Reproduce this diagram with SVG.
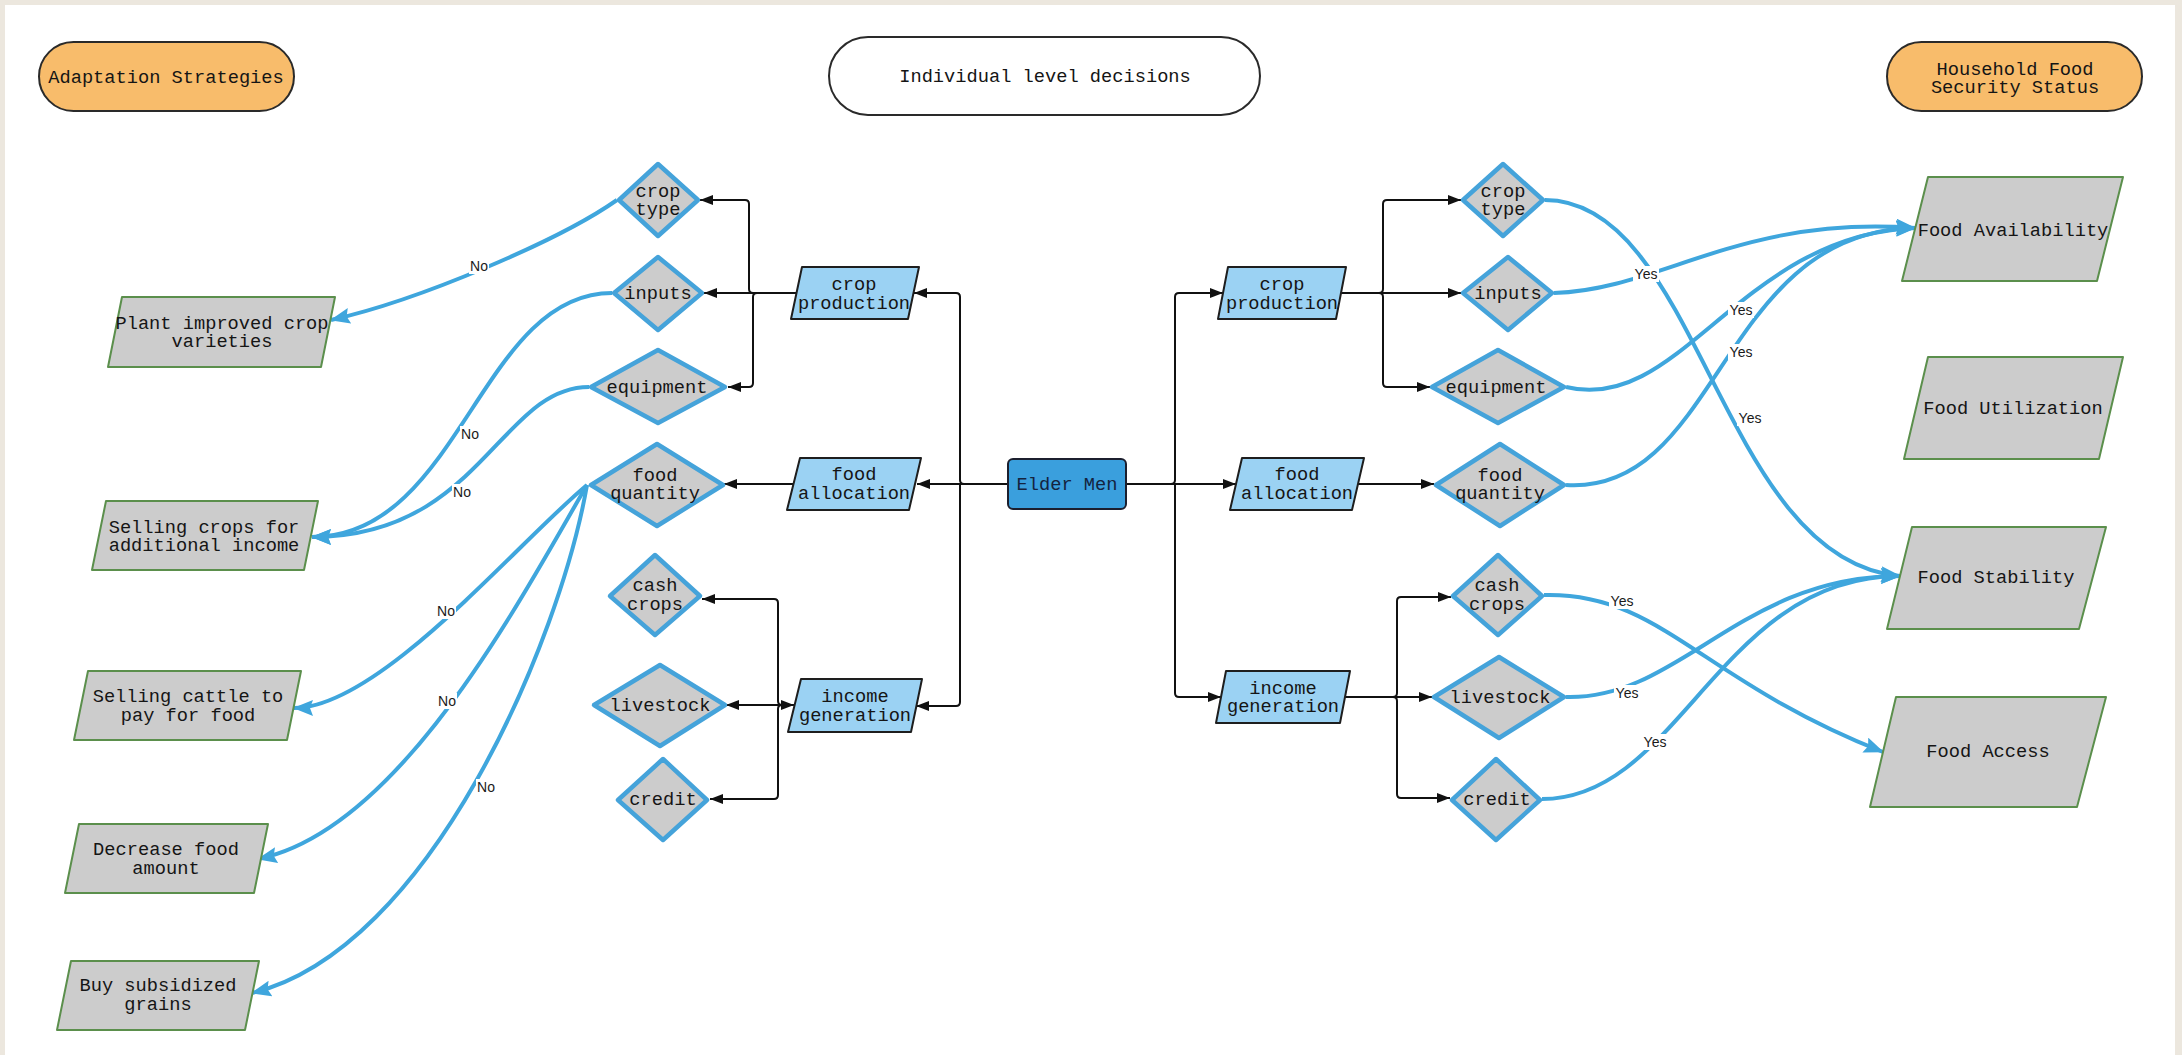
<svg xmlns="http://www.w3.org/2000/svg" width="2182" height="1055" viewBox="0 0 2182 1055">
<defs>
<style>
.t{font-family:"Liberation Mono","DejaVu Sans Mono",monospace;font-size:18.7px;fill:#151515;text-anchor:middle}
.lbl{font-family:"Liberation Sans",Arial,sans-serif;font-size:14px;fill:#1a1a1a;text-anchor:middle}
.dia{fill:#cccccc;stroke:#45a3da;stroke-width:4.5;stroke-linejoin:round}
.out{fill:#cccccc;stroke:#5b8f4c;stroke-width:2;stroke-linejoin:round}
.dec{fill:#9bd2f3;stroke:#1e1e1e;stroke-width:2;stroke-linejoin:round}
.hdr{fill:#f8bc6b;stroke:#2a2a2a;stroke-width:2}
.blk{fill:none;stroke:#111;stroke-width:2;marker-end:url(#ab)}
.blu{fill:none;stroke:#3fa6dd;stroke-width:4;marker-end:url(#au)}
.lb{fill:#fff}
</style>
<marker id="ab" markerUnits="userSpaceOnUse" markerWidth="13" markerHeight="10" refX="13" refY="5" orient="auto"><path d="M0,0 L13,5 L0,10 z" fill="#111"/></marker>
<marker id="abs" markerUnits="userSpaceOnUse" markerWidth="13" markerHeight="10" refX="13" refY="5" orient="auto-start-reverse"><path d="M0,0 L13,5 L0,10 z" fill="#111"/></marker>
<marker id="au" markerUnits="userSpaceOnUse" markerWidth="20" markerHeight="16" refX="19" refY="8" orient="auto"><path d="M0,0 L20,8 L0,16 L3,8 z" fill="#3fa6dd"/></marker>
</defs>
<rect x="0" y="0" width="2182" height="1055" fill="#ece7de"/>
<rect x="5" y="5" width="2170" height="1050" fill="#ffffff"/>

<g id="connectors">
<path class="blk" d="M1007,484 H964 Q960,484 960,480 V297 Q960,293 956,293 H914"/>
<path class="blk" d="M1007,484 H917"/>
<path class="blk" d="M960,484 V702 Q960,706 956,706 H916"/>
<path class="blk" d="M796,293 H753 Q749,293 749,289 V204 Q749,200 745,200 H700"/>
<path class="blk" d="M796,293 H704"/>
<path class="blk" d="M796,293 H757 Q753,293 753,297 V383 Q753,387 749,387 H728"/>
<path class="blk" d="M793,484 H724"/>
<path class="blk" d="M794,705 H782 Q778,705 778,701 V603 Q778,599 774,599 H702"/>
<path class="blk" d="M794,705 H726" marker-start="url(#abs)"/>
<path class="blk" d="M794,705 H782 Q778,705 778,709 V795 Q778,799 774,799 H710"/>
<path class="blk" d="M1127,484 H1171 Q1175,484 1175,480 V297 Q1175,293 1179,293 H1223"/>
<path class="blk" d="M1127,484 H1236"/>
<path class="blk" d="M1175,484 V693 Q1175,697 1179,697 H1221"/>
<path class="blk" d="M1341,293 H1379 Q1383,293 1383,289 V204 Q1383,200 1387,200 H1461"/>
<path class="blk" d="M1341,293 H1461"/>
<path class="blk" d="M1341,293 H1379 Q1383,293 1383,297 V383 Q1383,387 1387,387 H1430"/>
<path class="blk" d="M1358,484 H1434"/>
<path class="blk" d="M1345,697 H1393 Q1397,697 1397,693 V601 Q1397,597 1401,597 H1451"/>
<path class="blk" d="M1345,697 H1432"/>
<path class="blk" d="M1345,697 H1393 Q1397,697 1397,701 V794 Q1397,798 1401,798 H1450"/>

<path class="blu" d="M617,200 C560,240 420,300 331,320"/>
<path class="blu" d="M612,293 C480,293 460,537 312,537"/>
<path class="blu" d="M589,387 C500,387 480,537 312,537"/>
<path class="blu" d="M587,485 C520,540 380,708 294,708"/>
<path class="blu" d="M587,485 C520,600 400,830 258,859"/>
<path class="blu" d="M587,485 C560,640 430,950 252,993"/>

<path class="blu" d="M1545,200 C1700,200 1720,560 1900,576"/>
<path class="blu" d="M1554,293 C1660,290 1740,215 1915,228"/>
<path class="blu" d="M1566,387 C1680,415 1740,235 1915,228"/>
<path class="blu" d="M1566,485 C1720,495 1720,230 1915,228"/>
<path class="blu" d="M1544,595 C1660,592 1700,680 1883,752"/>
<path class="blu" d="M1566,697 C1680,700 1740,576 1900,576"/>
<path class="blu" d="M1542,799 C1680,799 1720,576 1900,576"/>

<g id="labels">
<rect class="lb" x="469" y="258" width="20" height="16"/><text class="lbl" x="479" y="271">No</text>
<rect class="lb" x="460" y="426" width="20" height="16"/><text class="lbl" x="470" y="439">No</text>
<rect class="lb" x="452" y="484" width="20" height="16"/><text class="lbl" x="462" y="497">No</text>
<rect class="lb" x="436" y="603" width="20" height="16"/><text class="lbl" x="446" y="616">No</text>
<rect class="lb" x="437" y="693" width="20" height="16"/><text class="lbl" x="447" y="706">No</text>
<rect class="lb" x="476" y="779" width="20" height="16"/><text class="lbl" x="486" y="792">No</text>
<rect class="lb" x="1633" y="266" width="26" height="16"/><text class="lbl" x="1646" y="279">Yes</text>
<rect class="lb" x="1728" y="302" width="26" height="16"/><text class="lbl" x="1741" y="315">Yes</text>
<rect class="lb" x="1728" y="344" width="26" height="16"/><text class="lbl" x="1741" y="357">Yes</text>
<rect class="lb" x="1737" y="410" width="26" height="16"/><text class="lbl" x="1750" y="423">Yes</text>
<rect class="lb" x="1609" y="593" width="26" height="16"/><text class="lbl" x="1622" y="606">Yes</text>
<rect class="lb" x="1614" y="685" width="26" height="16"/><text class="lbl" x="1627" y="698">Yes</text>
<rect class="lb" x="1642" y="734" width="26" height="16"/><text class="lbl" x="1655" y="747">Yes</text>
</g>
</g>

<g id="hdr-adaptation"><rect class="hdr" x="39" y="42" width="255" height="69" rx="34.5"/><text class="t" x="166" y="83">Adaptation Strategies</text></g>
<g id="hdr-individual"><rect x="829" y="37" width="431" height="78" rx="39" fill="#fff" stroke="#2a2a2a" stroke-width="2"/><text class="t" x="1045" y="82">Individual level decisions</text></g>
<g id="hdr-household"><rect class="hdr" x="1887" y="42" width="255" height="69" rx="34.5"/><text class="t" x="2015" y="75">Household Food</text><text class="t" x="2015" y="93">Security Status</text></g>

<g id="elder-men"><rect x="1008" y="459" width="118" height="50" rx="5" fill="#3a9fdd" stroke="#1c1f2e" stroke-width="2"/><text class="t" x="1067" y="490" style="fill:#14243f">Elder Men</text></g>

<g id="crop-production-l"><polygon class="dec" points="802,267 919,267 908,319 791,319"/><text class="t" x="854" y="290">crop</text><text class="t" x="854" y="309">production</text></g>
<g id="food-allocation-l"><polygon class="dec" points="800,458 921,458 909,510 787,510"/><text class="t" x="854" y="480">food</text><text class="t" x="854" y="499">allocation</text></g>
<g id="income-generation-l"><polygon class="dec" points="801,679 922,679 911,732 788,732"/><text class="t" x="855" y="702">income</text><text class="t" x="855" y="721">generation</text></g>
<g id="crop-production-r"><polygon class="dec" points="1228,267 1346,267 1336,319 1218,319"/><text class="t" x="1282" y="290">crop</text><text class="t" x="1282" y="309">production</text></g>
<g id="food-allocation-r"><polygon class="dec" points="1242,458 1364,458 1352,510 1230,510"/><text class="t" x="1297" y="480">food</text><text class="t" x="1297" y="499">allocation</text></g>
<g id="income-generation-r"><polygon class="dec" points="1226,671 1350,671 1340,723 1216,723"/><text class="t" x="1283" y="694">income</text><text class="t" x="1283" y="712">generation</text></g>

<g id="crop-type-l"><polygon class="dia" points="658,164 698,200 658,236 619,200"/><text class="t" x="658" y="197">crop</text><text class="t" x="658" y="215">type</text></g>
<g id="inputs-l"><polygon class="dia" points="658,257 702,293 658,330 614,293"/><text class="t" x="658" y="299">inputs</text></g>
<g id="equipment-l"><polygon class="dia" points="658,350 725,387 658,423 591,387"/><text class="t" x="657" y="393">equipment</text></g>
<g id="food-quantity-l"><polygon class="dia" points="657,444 723,485 657,526 591,485"/><text class="t" x="655" y="481">food</text><text class="t" x="655" y="499">quantity</text></g>
<g id="cash-crops-l"><polygon class="dia" points="655,555 700,596 655,635 610,596"/><text class="t" x="655" y="591">cash</text><text class="t" x="655" y="610">crops</text></g>
<g id="livestock-l"><polygon class="dia" points="660,665 725,705 660,746 594,705"/><text class="t" x="660" y="711">livestock</text></g>
<g id="credit-l"><polygon class="dia" points="663,759 707,800 663,840 618,800"/><text class="t" x="663" y="805">credit</text></g>

<g id="crop-type-r"><polygon class="dia" points="1503,164 1543,200 1503,236 1463,200"/><text class="t" x="1503" y="197">crop</text><text class="t" x="1503" y="215">type</text></g>
<g id="inputs-r"><polygon class="dia" points="1508,257 1552,293 1508,330 1463,293"/><text class="t" x="1508" y="299">inputs</text></g>
<g id="equipment-r"><polygon class="dia" points="1498,350 1564,387 1498,423 1432,387"/><text class="t" x="1496" y="393">equipment</text></g>
<g id="food-quantity-r"><polygon class="dia" points="1500,444 1564,485 1500,526 1436,485"/><text class="t" x="1500" y="481">food</text><text class="t" x="1500" y="499">quantity</text></g>
<g id="cash-crops-r"><polygon class="dia" points="1498,555 1542,596 1498,635 1453,596"/><text class="t" x="1497" y="591">cash</text><text class="t" x="1497" y="610">crops</text></g>
<g id="livestock-r"><polygon class="dia" points="1499,657 1564,697 1499,738 1434,697"/><text class="t" x="1500" y="703">livestock</text></g>
<g id="credit-r"><polygon class="dia" points="1496,759 1540,800 1496,840 1452,800"/><text class="t" x="1497" y="805">credit</text></g>

<g id="plant-improved"><polygon class="out" points="122,297 335,297 321,367 108,367"/><text class="t" x="222" y="329">Plant improved crop</text><text class="t" x="222" y="347">varieties</text></g>
<g id="selling-crops"><polygon class="out" points="106,501 318,501 304,570 92,570"/><text class="t" x="204" y="533">Selling crops for</text><text class="t" x="204" y="551">additional income</text></g>
<g id="selling-cattle"><polygon class="out" points="88,671 301,671 287,740 74,740"/><text class="t" x="188" y="702">Selling cattle to</text><text class="t" x="188" y="721">pay for food</text></g>
<g id="decrease-food"><polygon class="out" points="79,824 268,824 254,893 65,893"/><text class="t" x="166" y="855">Decrease food</text><text class="t" x="166" y="874">amount</text></g>
<g id="buy-subsidized"><polygon class="out" points="71,961 259,961 245,1030 57,1030"/><text class="t" x="158" y="991">Buy subsidized</text><text class="t" x="158" y="1010">grains</text></g>

<g id="food-availability"><polygon class="out" points="1928,177 2123,177 2097,281 1902,281"/><text class="t" x="2013" y="236">Food Availability</text></g>
<g id="food-utilization"><polygon class="out" points="1928,357 2123,357 2099,459 1904,459"/><text class="t" x="2013" y="414">Food Utilization</text></g>
<g id="food-stability"><polygon class="out" points="1912,527 2106,527 2079,629 1887,629"/><text class="t" x="1996" y="583">Food Stability</text></g>
<g id="food-access"><polygon class="out" points="1896,697 2106,697 2077,807 1870,807"/><text class="t" x="1988" y="757">Food Access</text></g>
</svg>
